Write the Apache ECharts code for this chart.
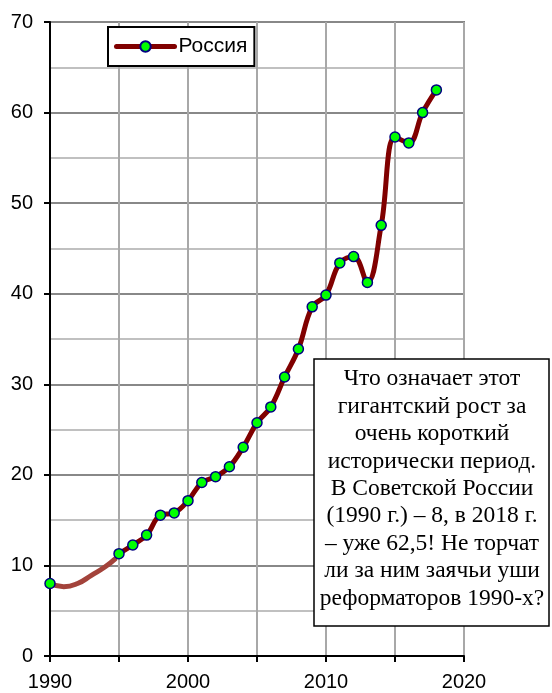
<!DOCTYPE html>
<html>
<head>
<meta charset="utf-8">
<script src="https://cdn.jsdelivr.net/npm/echarts@6/dist/echarts.min.js"></script>
<style>
  html, body { margin: 0; padding: 0; background: #fff; }
  #chart { width: 552px; height: 693px; }
</style>
</head>
<body>
<div id="chart"></div>
<script>
// данные: 1990 и 1995–2018, пропуск 1991–1994
const years = [1990, 1991, 1992, 1993, 1994, 1995, 1996, 1997, 1998, 1999, 2000, 2001, 2002, 2003, 2004,
  2005, 2006, 2007, 2008, 2009, 2010, 2011, 2012, 2013, 2014, 2015, 2016, 2017, 2018]
const russia = [8.0, null, null, null, null, 11.3, 12.25, 13.35, 15.55, 15.8, 17.15, 19.15, 19.8, 20.9, 23.05,
  25.75, 27.5, 30.8, 33.9, 38.55, 39.85, 43.4, 44.1, 41.25, 47.55, 57.3, 56.65, 60.0, 62.5]

// светлый участок линии над пропуском
const gapYears = [1990, 1991, 1992, 1993, 1994, 1994.7]
const gapValues = [8.0, 7.65, 8.0, 8.9, 9.85, 10.7]

const xTicks = [1990, 2000, 2010, 2020]
const yTicks = [0, 10, 20, 30, 40, 50, 60, 70]

const note = [
  'Что означает этот',
  'гигантский рост за',
  'очень короткий',
  'исторически период.',
  'В Советской России',
  '(1990 г.) – 8, в 2018 г.',
  '– уже 62,5! Не торчат',
  'ли за ним заячьи уши',
  'реформаторов 1990-х?',
]

const myChart = echarts.init(document.getElementById('chart'))

myChart.setOption({
  animation: false,
  textStyle: { fontFamily: 'Liberation Sans, Arial, sans-serif' },
  grid: {
    left: 50,
    top: 22,
    right: 88,
    bottom: 37,
    show: true,
    borderColor: '#808080',
    borderWidth: 2,
  },
  legend: {
    data: ['Россия'],
    left: 108,
    top: 27,
    padding: [9, 7, 9, 6],
    itemWidth: 58,
    itemHeight: 13,
    itemGap: 4,
    backgroundColor: '#fff',
    borderColor: '#000',
    borderWidth: 2,
    borderRadius: 0,
    lineStyle: { width: 5, color: '#800000', cap: 'round' },
    textStyle: {
      color: '#000',
      fontSize: 21,
      padding: [0, 0, 0, -1],
    },
  },
  xAxis: {
    type: 'value',
    min: 1990,
    max: 2020,
    interval: 5,
    axisLine: { lineStyle: { color: '#000', width: 2 } },
    axisTick: { show: true, length: 6, lineStyle: { color: '#000', width: 2 } },
    axisLabel: {
      color: '#000',
      fontSize: 20,
      margin: 16,
      formatter: (v) => (xTicks.includes(v) ? String(v) : ''),
    },
    splitLine: { show: true, lineStyle: { color: '#a8a8a8', width: 2 } },
  },
  yAxis: {
    type: 'value',
    min: 0,
    max: 70,
    interval: 10,
    axisLine: { show: true, lineStyle: { color: '#000', width: 2 } },
    axisTick: { show: true, length: 6, lineStyle: { color: '#000', width: 2 } },
    axisLabel: {
      color: '#000',
      fontSize: 20,
      margin: 17,
      formatter: (v) => (yTicks.includes(v) ? String(v) : ''),
    },
    splitLine: { show: true, lineStyle: { color: '#888', width: 2 } },
    minorTick: { show: false, splitNumber: 2 },
    minorSplitLine: { show: true, lineStyle: { color: '#c0c0c0', width: 2 } },
  },
  series: [
    {
      name: 'gap',
      type: 'line',
      data: gapYears.map((y, i) => [y, gapValues[i]]),
      smooth: true,
      symbol: 'none',
      silent: true,
      z: 2,
      lineStyle: { color: '#a3433b', width: 5, cap: 'round' },
    },
    {
      name: 'Россия',
      type: 'line',
      data: years.map((y, i) => [y, russia[i]]),
      smooth: 0.4,
      connectNulls: false,
      symbol: 'circle',
      symbolSize: 10,
      z: 3,
      color: '#800000',
      lineStyle: { color: '#800000', width: 5, cap: 'round' },
      itemStyle: { color: '#00ff00', borderColor: '#000080', borderWidth: 1.5 },
    },
  ],
  graphic: [
    {
      type: 'rect',
      z: 100,
      shape: { x: 314, y: 359, width: 235, height: 267 },
      style: { fill: '#fff', stroke: '#000', lineWidth: 1.5 },
    },
    {
      type: 'text',
      z: 101,
      x: 432,
      y: 365.5,
      style: {
        text: note.join('\n'),
        font: '23.5px "Liberation Serif", "Times New Roman", serif',
        fill: '#000',
        align: 'center',
        verticalAlign: 'top',
        lineHeight: 27.4,
      },
    },
  ],
})
</script>
</body>
</html>
